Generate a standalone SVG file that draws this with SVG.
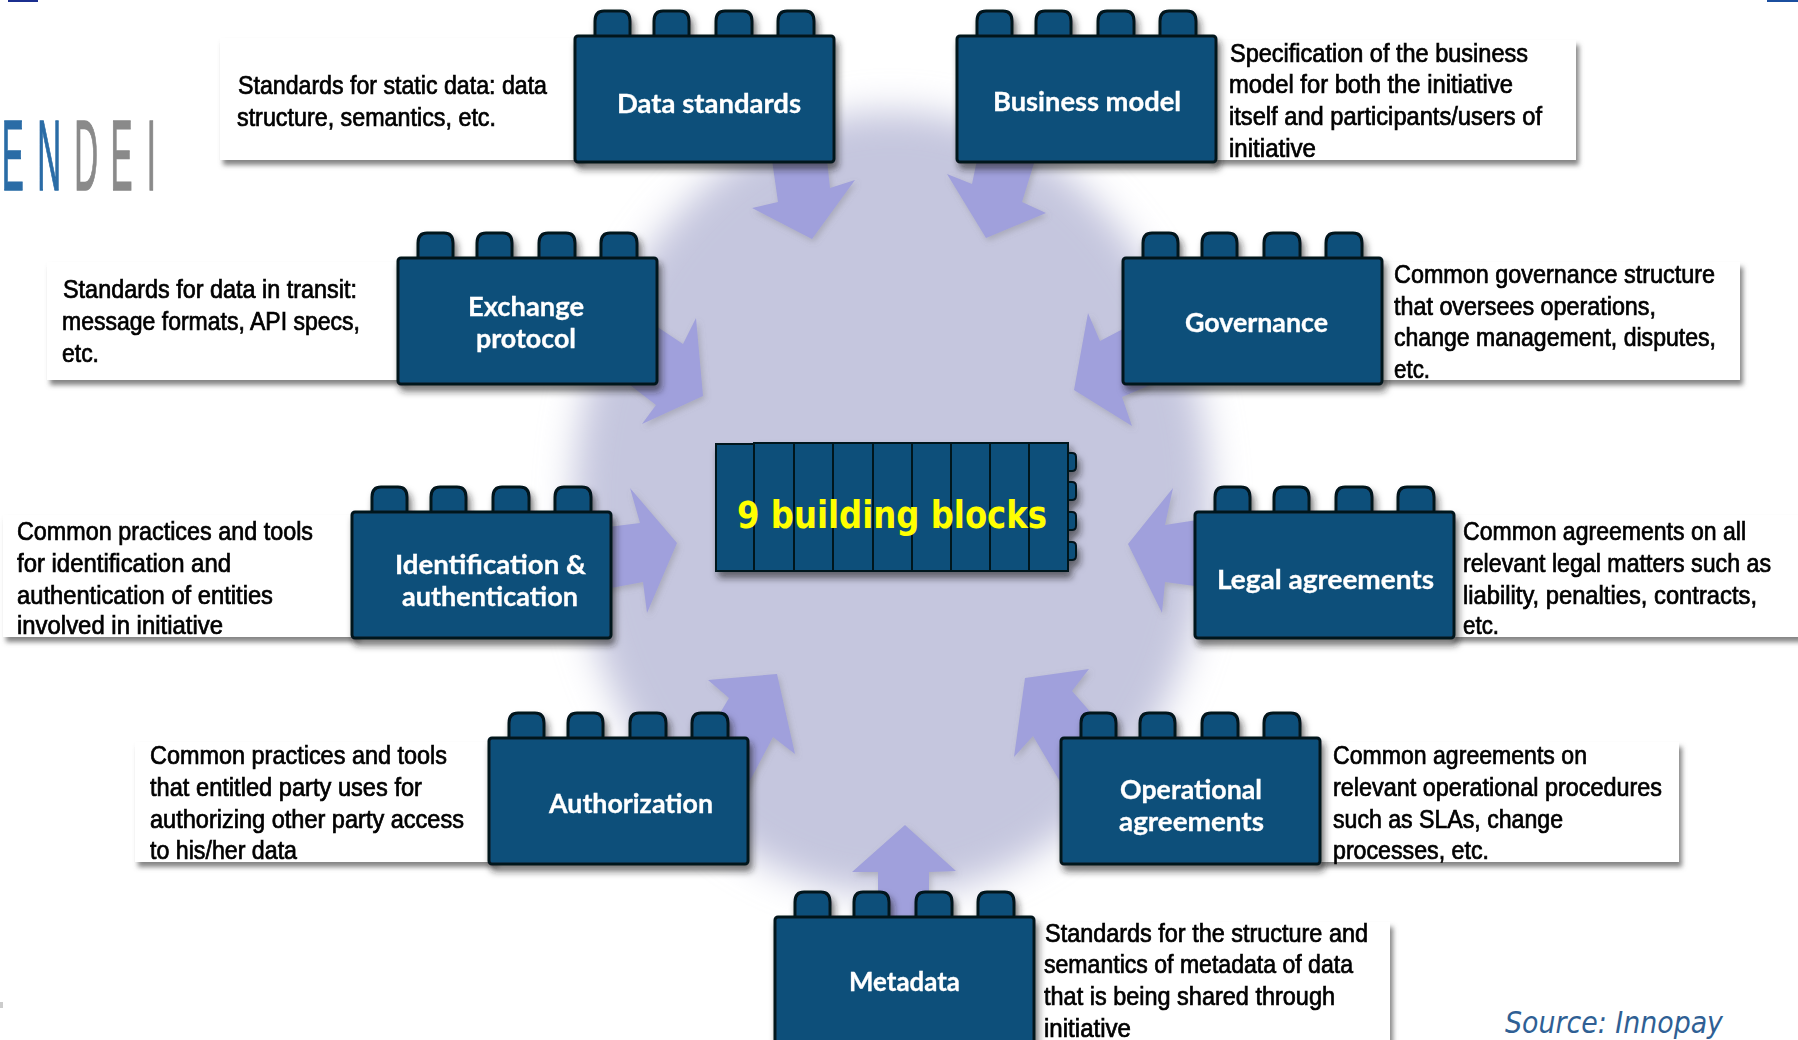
<svg xmlns="http://www.w3.org/2000/svg" xmlns:xlink="http://www.w3.org/1999/xlink" width="1798" height="1040" viewBox="0 0 1798 1040">
<style>
.d{font-family:"Liberation Sans",Arial,sans-serif;font-size:25px;fill:#000;stroke:#000;stroke-width:.7px;filter:url(#soft)}
.l{font-family:Lato,"Noto Sans",sans-serif;font-weight:700;font-size:26px;fill:#fff;stroke:#fff;stroke-width:.3px;filter:url(#soft)}
.c{fill:#fff;filter:url(#cs)}
.b{fill:#104f7a;stroke:#06121c;stroke-width:3}
.a{fill:#a0a0dc}
.seg{fill:#104f7a;stroke:#06121c;stroke-width:2}
</style>
<defs>
<filter id="soft" x="-3%" y="-15%" width="106%" height="130%"><feGaussianBlur stdDeviation=".45"/></filter>
<filter id="blob" x="-20%" y="-20%" width="140%" height="140%"><feGaussianBlur stdDeviation="18"/></filter>
<filter id="cs" x="-5%" y="-10%" width="110%" height="125%"><feDropShadow dx="3" dy="5" stdDeviation="2.5" flood-color="#666" flood-opacity=".8"/></filter>
<filter id="bs" x="-5%" y="-5%" width="112%" height="118%"><feDropShadow dx="3" dy="6" stdDeviation="3.5" flood-color="#222" flood-opacity=".6"/></filter>
<filter id="as" x="-10%" y="-10%" width="125%" height="125%"><feDropShadow dx="2" dy="3" stdDeviation="3" flood-color="#777" flood-opacity=".35"/></filter>
<g id="brick" filter="url(#bs)">
<path class="b" d="M21 1V-15Q21 -25 30 -25H47Q56 -25 56 -15V1ZM80 1V-15Q80 -25 89 -25H106Q115 -25 115 -15V1ZM142 1V-15Q142 -25 151 -25H169Q178 -25 178 -15V1ZM204 1V-15Q204 -25 213 -25H231Q240 -25 240 -15V1Z"/>
<rect class="b" x="1" y="0" width="259" height="126" rx="3"/>
</g>
</defs>
<rect width="1798" height="1040" fill="#fff"/>
<rect x="8" y="0" width="30" height="2" fill="#1b2f8f"/>
<rect x="1767" y="0" width="31" height="2" fill="#1b4f9f"/>
<rect x="0" y="1002" width="3" height="6" fill="#ccc"/>
<ellipse id="hub" cx="892" cy="503" rx="318" ry="392" fill="#c5c6de" filter="url(#blob)"/>
<g id="logo" font-family="'Liberation Sans',sans-serif" font-size="100" stroke-width="1.5" transform="scale(.33 1)" filter="url(#soft)">
<text y="190" x="5 113 225 335 445"><tspan fill="#2a6ca6" stroke="#2a6ca6">EN</tspan><tspan fill="#8a8a8a" stroke="#8a8a8a">DEI</tspan></text>
</g>
<g id="connectors" filter="url(#as)">
<polygon class="a" points="772,160 827,160 830,188 855,180 812,239 752,208 778,202"/>
<polygon class="a" points="977,160 1035,160 1022,202 1046,213 986,238 947,174 972,184"/>
<polygon class="a" points="650,322 683,344 696,318 703,396 642,424 656,405 630,385"/>
<polygon class="a" points="1088,313 1074,390 1132,426 1122,397 1150,385 1140,320 1121,330 1100,341"/>
<polygon class="a" points="630,488 677,543 647,613 643,582 600,590 600,528 640,523"/>
<polygon class="a" points="1173,488 1128,544 1162,613 1165,582 1210,588 1210,518 1165,525"/>
<polygon class="a" points="708,680 777,674 795,754 773,737 745,790 710,730 729,698"/>
<polygon class="a" points="1089,669 1025,678 1014,757 1033,736 1065,790 1100,723 1072,691"/>
<polygon class="a" points="905,825 852,872 878,872 878,925 929,925 929,872 956,871"/>
</g>
<g id="n-data-standards">
<rect class="c" x="220" y="38" width="361" height="122"/>
<text class="d" x="238" y="94" textLength="309" lengthAdjust="spacingAndGlyphs">Standards for static data: data</text>
<text class="d" x="237" y="126" textLength="259" lengthAdjust="spacingAndGlyphs">structure, semantics, etc.</text>
<use xlink:href="#brick" href="#brick" x="574" y="36"/>
<text class="l" x="617" y="113" textLength="184" lengthAdjust="spacingAndGlyphs">Data standards</text>
</g>
<g id="n-business-model">
<rect class="c" x="1210" y="40" width="366" height="120"/>
<text class="d" x="1230" y="62" textLength="298" lengthAdjust="spacingAndGlyphs">Specification of the business</text>
<text class="d" x="1229" y="93" textLength="284" lengthAdjust="spacingAndGlyphs">model for both the initiative</text>
<text class="d" x="1229" y="125" textLength="313" lengthAdjust="spacingAndGlyphs">itself and participants/users of</text>
<text class="d" x="1229" y="157" textLength="87" lengthAdjust="spacingAndGlyphs">initiative</text>
<use xlink:href="#brick" href="#brick" x="956" y="36"/>
<text class="l" x="993" y="111" textLength="188" lengthAdjust="spacingAndGlyphs">Business model</text>
</g>
<g id="n-exchange-protocol">
<rect class="c" x="47" y="262" width="357" height="118"/>
<text class="d" x="63" y="298" textLength="294" lengthAdjust="spacingAndGlyphs">Standards for data in transit:</text>
<text class="d" x="62" y="330" textLength="298" lengthAdjust="spacingAndGlyphs">message formats, API specs,</text>
<text class="d" x="62" y="362" textLength="37" lengthAdjust="spacingAndGlyphs">etc.</text>
<use xlink:href="#brick" href="#brick" x="397" y="258"/>
<text class="l" x="468" y="316" textLength="116" lengthAdjust="spacingAndGlyphs">Exchange</text>
<text class="l" x="476" y="348" textLength="100" lengthAdjust="spacingAndGlyphs">protocol</text>
</g>
<g id="n-governance">
<rect class="c" x="1378" y="262" width="362" height="118"/>
<text class="d" x="1394" y="283" textLength="321" lengthAdjust="spacingAndGlyphs">Common governance structure</text>
<text class="d" x="1394" y="315" textLength="262" lengthAdjust="spacingAndGlyphs">that oversees operations,</text>
<text class="d" x="1394" y="346" textLength="322" lengthAdjust="spacingAndGlyphs">change management, disputes,</text>
<text class="d" x="1394" y="378" textLength="36" lengthAdjust="spacingAndGlyphs">etc.</text>
<use xlink:href="#brick" href="#brick" x="1122" y="258"/>
<text class="l" x="1185" y="332" textLength="143" lengthAdjust="spacingAndGlyphs">Governance</text>
</g>
<g id="n-identification">
<rect class="c" x="3" y="515" width="354" height="122"/>
<text class="d" x="17" y="540" textLength="296" lengthAdjust="spacingAndGlyphs">Common practices and tools</text>
<text class="d" x="17" y="572" textLength="214" lengthAdjust="spacingAndGlyphs">for identification and</text>
<text class="d" x="17" y="604" textLength="256" lengthAdjust="spacingAndGlyphs">authentication of entities</text>
<text class="d" x="17" y="634" textLength="206" lengthAdjust="spacingAndGlyphs">involved in initiative</text>
<use xlink:href="#brick" href="#brick" x="351" y="512"/>
<text class="l" x="395" y="574" textLength="191" lengthAdjust="spacingAndGlyphs">Identification &amp;</text>
<text class="l" x="402" y="606" textLength="176" lengthAdjust="spacingAndGlyphs">authentication</text>
</g>
<g id="n-legal-agreements">
<rect class="c" x="1450" y="515" width="350" height="122"/>
<text class="d" x="1463" y="540" textLength="283" lengthAdjust="spacingAndGlyphs">Common agreements on all</text>
<text class="d" x="1463" y="572" textLength="308" lengthAdjust="spacingAndGlyphs">relevant legal matters such as</text>
<text class="d" x="1463" y="604" textLength="294" lengthAdjust="spacingAndGlyphs">liability, penalties, contracts,</text>
<text class="d" x="1463" y="634" textLength="36" lengthAdjust="spacingAndGlyphs">etc.</text>
<use xlink:href="#brick" href="#brick" x="1194" y="512"/>
<text class="l" x="1217" y="589" textLength="217" lengthAdjust="spacingAndGlyphs">Legal agreements</text>
</g>
<g id="n-authorization">
<rect class="c" x="135" y="742" width="360" height="120"/>
<text class="d" x="150" y="764" textLength="297" lengthAdjust="spacingAndGlyphs">Common practices and tools</text>
<text class="d" x="150" y="796" textLength="272" lengthAdjust="spacingAndGlyphs">that entitled party uses for</text>
<text class="d" x="150" y="828" textLength="314" lengthAdjust="spacingAndGlyphs">authorizing other party access</text>
<text class="d" x="150" y="859" textLength="147" lengthAdjust="spacingAndGlyphs">to his/her data</text>
<use xlink:href="#brick" href="#brick" x="488" y="738"/>
<text class="l" x="549" y="813" textLength="164" lengthAdjust="spacingAndGlyphs">Authorization</text>
</g>
<g id="n-operational-agreements">
<rect class="c" x="1315" y="742" width="364" height="120"/>
<text class="d" x="1333" y="764" textLength="254" lengthAdjust="spacingAndGlyphs">Common agreements on</text>
<text class="d" x="1333" y="796" textLength="329" lengthAdjust="spacingAndGlyphs">relevant operational procedures</text>
<text class="d" x="1333" y="828" textLength="230" lengthAdjust="spacingAndGlyphs">such as SLAs, change</text>
<text class="d" x="1333" y="859" textLength="156" lengthAdjust="spacingAndGlyphs">processes, etc.</text>
<use xlink:href="#brick" href="#brick" x="1060" y="738"/>
<text class="l" x="1120" y="799" textLength="142" lengthAdjust="spacingAndGlyphs">Operational</text>
<text class="l" x="1119" y="831" textLength="145" lengthAdjust="spacingAndGlyphs">agreements</text>
</g>
<g id="n-metadata">
<rect class="c" x="1028" y="922" width="362" height="130"/>
<text class="d" x="1045" y="942" textLength="323" lengthAdjust="spacingAndGlyphs">Standards for the structure and</text>
<text class="d" x="1044" y="973" textLength="309" lengthAdjust="spacingAndGlyphs">semantics of metadata of data</text>
<text class="d" x="1044" y="1005" textLength="291" lengthAdjust="spacingAndGlyphs">that is being shared through</text>
<text class="d" x="1044" y="1037" textLength="87" lengthAdjust="spacingAndGlyphs">initiative</text>
<use xlink:href="#brick" href="#brick" x="774" y="917"/>
<text class="l" x="849" y="991" textLength="111" lengthAdjust="spacingAndGlyphs">Metadata</text>
</g>
<g id="n-center">
<g filter="url(#bs)">
<path class="seg" d="M1068 453h4q4 0 4 4v10q0 4 -4 4h-4ZM1068 482h4q4 0 4 4v10q0 4 -4 4h-4ZM1068 512h4q4 0 4 4v10q0 4 -4 4h-4ZM1068 542h4q4 0 4 4v10q0 4 -4 4h-4Z"/>
<rect class="seg" x="716" y="444" width="38" height="127"/>
<rect class="seg" x="754" y="443" width="40" height="128"/>
<rect class="seg" x="794" y="443" width="39" height="128"/>
<rect class="seg" x="833" y="443" width="40" height="128"/>
<rect class="seg" x="873" y="443" width="39" height="128"/>
<rect class="seg" x="912" y="443" width="39" height="128"/>
<rect class="seg" x="951" y="443" width="39" height="128"/>
<rect class="seg" x="990" y="443" width="39" height="128"/>
<rect class="seg" x="1029" y="443" width="39" height="128"/>
</g>
<text x="737" y="528" font-family="'DejaVu Sans',sans-serif" font-weight="700" font-size="37" fill="#ffff00" textLength="310" lengthAdjust="spacingAndGlyphs">9 building blocks</text>
</g>
<text id="source" x="1505" y="1033" font-family="'DejaVu Sans',sans-serif" font-style="italic" font-size="31" fill="#2f5f94" textLength="218" lengthAdjust="spacingAndGlyphs">Source: Innopay</text>
</svg>
